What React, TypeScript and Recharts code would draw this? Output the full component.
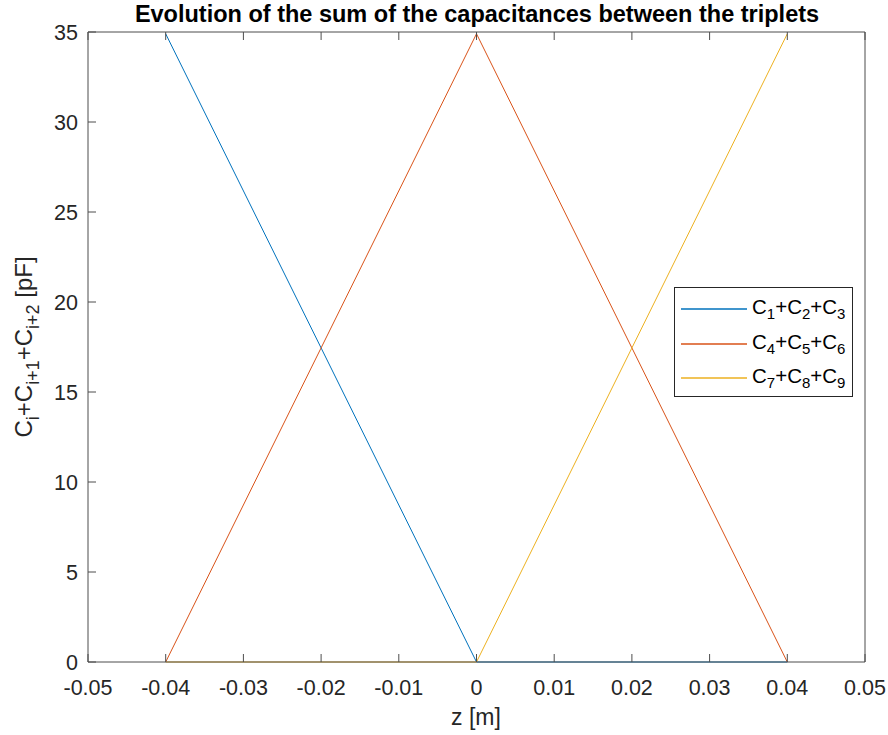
import { LineChart, Line, XAxis, YAxis, Legend, Label } from 'recharts'

// z positions [m] and the summed capacitances [pF] of each triplet
const zValues = [-0.04, 0, 0.04]
const sum123 = [34.9, 0, 0]
const sum456 = [0, 34.9, 0]
const sum789 = [0, 0, 34.9]

const xTicks = [-0.05, -0.04, -0.03, -0.02, -0.01, 0, 0.01, 0.02, 0.03, 0.04, 0.05]
const xTickLabels = ['-0.05', '-0.04', '-0.03', '-0.02', '-0.01', '0', '0.01', '0.02', '0.03', '0.04', '0.05']
const yTicks = [0, 5, 10, 15, 20, 25, 30, 35]

const seriesInfo = [
  { key: 'c123', color: '#0072BD', subs: ['1', '2', '3'] },
  { key: 'c456', color: '#D95319', subs: ['4', '5', '6'] },
  { key: 'c789', color: '#EDB120', subs: ['7', '8', '9'] },
]

const data = zValues.map((z, i) => ({ z, c123: sum123[i], c456: sum456[i], c789: sum789[i] }))

const FONT = '"Liberation Sans", Arial, Helvetica, sans-serif'
const AXIS = '#4d4d4d'
const TEXT = '#262626'
const TICK_LEN = 8

const BottomTick = ({ x, y, payload }: any) => {
  const idx = xTicks.findIndex((t) => Math.abs(t - payload.value) < 1e-9)
  return (
    <g>
      <line x1={x} y1={y} x2={x} y2={y - TICK_LEN} stroke={AXIS} strokeWidth={1} />
      <text x={x} y={y + 33} textAnchor="middle" fontSize={21.5} fontFamily={FONT} fill={TEXT}>
        {idx >= 0 ? xTickLabels[idx] : payload.value}
      </text>
    </g>
  )
}

const TopTick = ({ x, y }: any) => (
  <line x1={x} y1={y} x2={x} y2={y + TICK_LEN} stroke={AXIS} strokeWidth={1} />
)

const LeftTick = ({ x, y, payload }: any) => (
  <g>
    <line x1={x} y1={y} x2={x + TICK_LEN} y2={y} stroke={AXIS} strokeWidth={1} />
    <text x={x - 10} y={y + 7.5} textAnchor="end" fontSize={21.5} fontFamily={FONT} fill={TEXT}>
      {payload.value}
    </text>
  </g>
)

const RightTick = ({ x, y }: any) => (
  <line x1={x} y1={y} x2={x - TICK_LEN} y2={y} stroke={AXIS} strokeWidth={1} />
)

const renderTitle = () => (
  <text x={477} y={22} textAnchor="middle" fontSize={23.5} fontWeight="bold" fontFamily={FONT} fill="#000">
    Evolution of the sum of the capacitances between the triplets
  </text>
)

const renderXLabel = () => (
  <text x={476} y={725} textAnchor="middle" fontSize={23} fontFamily={FONT} fill={TEXT}>
    z [m]
  </text>
)

const renderYLabel = () => (
  <text
    transform="translate(32, 347) rotate(-90)"
    textAnchor="middle"
    fontSize={24}
    fontFamily={FONT}
    fill={TEXT}
  >
    <tspan>C</tspan>
    <tspan fontSize={18} dy={7}>i</tspan>
    <tspan dy={-7}>+C</tspan>
    <tspan fontSize={18} dy={7}>i+1</tspan>
    <tspan dy={-7}>+C</tspan>
    <tspan fontSize={18} dy={7}>i+2</tspan>
    <tspan dy={-7}> [pF]</tspan>
  </text>
)

const renderLegend = () => (
  <div
    style={{
      width: 179,
      height: 110,
      border: '1px solid #262626',
      background: '#fff',
      boxSizing: 'border-box',
      fontFamily: FONT,
      color: '#000',
      padding: '4px 0 0 6px',
    }}
  >
    {seriesInfo.map((s) => (
      <div key={s.key} style={{ display: 'flex', alignItems: 'center', height: 34.5 }}>
        <svg width={66} height={4} style={{ marginRight: 5, display: 'block' }}>
          <line x1={0} y1={2} x2={66} y2={2} stroke={s.color} strokeWidth={1.5} />
        </svg>
        <span style={{ fontSize: 20.5, whiteSpace: 'nowrap', lineHeight: 1 }}>
          C<sub style={{ fontSize: 15 }}>{s.subs[0]}</sub>+C<sub style={{ fontSize: 15 }}>{s.subs[1]}</sub>+C
          <sub style={{ fontSize: 15 }}>{s.subs[2]}</sub>
        </span>
      </div>
    ))}
  </div>
)

export default function App() {
  return (
    <div style={{ position: 'absolute', left: 0, top: 0, background: '#fff' }}>
      <LineChart width={888} height={735} data={data} margin={{ top: 31, right: 22, bottom: 33, left: 28 }}>
        <XAxis
          dataKey="z"
          type="number"
          domain={[-0.05, 0.05]}
          ticks={xTicks}
          interval={0}
          height={40}
          tickSize={0}
          tickMargin={0}
          tickLine={false}
          tick={<BottomTick />}
          axisLine={{ stroke: AXIS, strokeWidth: 1 }}
        >
          <Label content={renderXLabel} />
        </XAxis>
        <XAxis
          xAxisId="top"
          orientation="top"
          dataKey="z"
          type="number"
          domain={[-0.05, 0.05]}
          ticks={xTicks}
          interval={0}
          height={1}
          tickSize={0}
          tickMargin={0}
          tickLine={false}
          tick={<TopTick />}
          axisLine={{ stroke: AXIS, strokeWidth: 1 }}
        >
          <Label content={renderTitle} />
        </XAxis>
        <YAxis
          type="number"
          domain={[0, 35]}
          ticks={yTicks}
          interval={0}
          width={60}
          tickSize={0}
          tickMargin={0}
          tickLine={false}
          tick={<LeftTick />}
          axisLine={{ stroke: AXIS, strokeWidth: 1 }}
        >
          <Label content={renderYLabel} />
        </YAxis>
        <YAxis
          yAxisId="right"
          orientation="right"
          type="number"
          domain={[0, 35]}
          ticks={yTicks}
          interval={0}
          width={1}
          tickSize={0}
          tickMargin={0}
          tickLine={false}
          tick={<RightTick />}
          axisLine={{ stroke: AXIS, strokeWidth: 1 }}
        />
        <Legend
          content={renderLegend}
          layout="horizontal"
          verticalAlign="middle"
          align="center"
          wrapperStyle={{ left: 674, top: 287, width: 179, height: 110 }}
        />
        {seriesInfo.map((s) => (
          <Line
            key={s.key}
            dataKey={s.key}
            stroke={s.color}
            strokeWidth={1}
            dot={false}
            activeDot={false}
            isAnimationActive={false}
          />
        ))}
      </LineChart>
    </div>
  )
}
